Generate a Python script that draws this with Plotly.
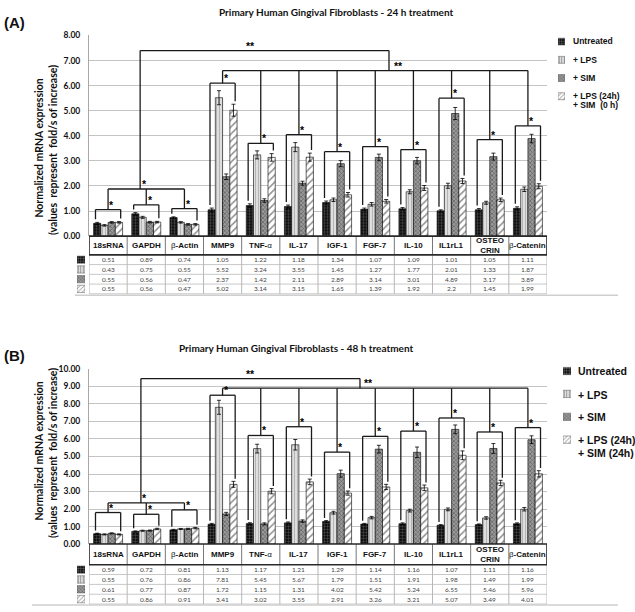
import plotly.graph_objects as go

W, H = 635, 612

# ---------------- data ----------------
categories = ["18sRNA", "GAPDH", "β-Actin", "MMP9", "TNF-α", "IL-17",
              "IGF-1", "FGF-7", "IL-10", "IL1rL1", "OSTEO CRIN", "β-Catenin"]
header_labels = ["<b>18sRNA</b>", "<b>GAPDH</b>", "β<b>-Actin</b>", "<b>MMP9</b>",
                 "<b>TNF-</b>α", "<b>IL-17</b>", "<b>IGF-1</b>", "<b>FGF-7</b>",
                 "<b>IL-10</b>", "<b>IL1rL1</b>", "<b>OSTEO<br>CRIN</b>", "β<b>-Catenin</b>"]
series_names = ["Untreated", "+ LPS", "+ SIM", "+ LPS + SIM"]

# Panel A : 24 h treatment
A_untreated = [0.51, 0.89, 0.74, 1.05, 1.22, 1.18, 1.34, 1.07, 1.09, 1.01, 1.05, 1.11]
A_lps       = [0.43, 0.75, 0.55, 5.52, 3.24, 3.55, 1.45, 1.27, 1.77, 2.01, 1.33, 1.87]
A_sim       = [0.55, 0.56, 0.47, 2.37, 1.42, 2.11, 2.89, 3.14, 3.01, 4.89, 3.17, 3.89]
A_lps_sim   = [0.55, 0.56, 0.47, 5.02, 3.14, 3.15, 1.65, 1.39, 1.92, 2.2, 1.45, 1.99]
A_untreated_err = [0.04, 0.05, 0.03, 0.07, 0.07, 0.06, 0.06, 0.05, 0.05, 0.04, 0.05, 0.06]
A_lps_err       = [0.03, 0.04, 0.03, 0.28, 0.16, 0.18, 0.07, 0.07, 0.08, 0.10, 0.06, 0.09]
A_sim_err       = [0.03, 0.03, 0.03, 0.11, 0.07, 0.08, 0.12, 0.13, 0.13, 0.24, 0.14, 0.17]
A_lps_sim_err   = [0.03, 0.03, 0.03, 0.24, 0.15, 0.16, 0.09, 0.07, 0.10, 0.10, 0.07, 0.10]
A_group_bracket = [1.06, 1.25, 1.10, 6.10, 3.70, 4.05, 3.37, 3.57, 3.45, 5.50, 3.85, 4.40]
A_house_bracket, A_top_bracket, A_mid_bracket = 1.88, 7.40, 6.60

# Panel B : 48 h treatment
B_untreated = [0.59, 0.72, 0.81, 1.13, 1.17, 1.21, 1.29, 1.14, 1.16, 1.07, 1.11, 1.16]
B_lps       = [0.55, 0.76, 0.86, 7.81, 5.45, 5.67, 1.79, 1.51, 1.91, 1.98, 1.49, 1.99]
B_sim       = [0.61, 0.77, 0.87, 1.72, 1.15, 1.31, 4.02, 5.42, 5.24, 6.55, 5.46, 5.96]
B_lps_sim   = [0.55, 0.86, 0.91, 3.41, 3.02, 3.55, 2.91, 3.26, 3.21, 5.07, 3.49, 4.01]
B_untreated_err = [0.03, 0.03, 0.03, 0.05, 0.05, 0.05, 0.05, 0.04, 0.05, 0.04, 0.04, 0.05]
B_lps_err       = [0.03, 0.03, 0.03, 0.40, 0.25, 0.30, 0.08, 0.07, 0.08, 0.08, 0.07, 0.10]
B_sim_err       = [0.03, 0.03, 0.03, 0.09, 0.06, 0.07, 0.20, 0.22, 0.30, 0.25, 0.28, 0.22]
B_lps_sim_err   = [0.03, 0.04, 0.04, 0.17, 0.15, 0.16, 0.12, 0.15, 0.16, 0.25, 0.15, 0.18]
B_group_bracket = [1.80, 1.70, 1.95, 8.50, 6.20, 6.70, 5.25, 6.15, 6.45, 7.20, 6.40, 6.65]
B_house_bracket, B_top_bracket, B_mid_bracket = 2.35, 9.45, 8.90

# ---------------- helpers ----------------
def PX(p):
    return p / W

def PY(p):
    return 1 - p / H

SANS = "Liberation Sans, Arial, sans-serif"
CAL = "Lato, Carlito, sans-serif"

patterns = [
    dict(shape="+", bgcolor="#111111", fgcolor="#d8d8d8", size=3, solidity=0.2),
    dict(shape="|", bgcolor="#dedede", fgcolor="#8a8a8a", size=3, solidity=0.35),
    dict(shape="x", bgcolor="#9a9a9a", fgcolor="#2e2e2e", size=3, solidity=0.45),
    dict(shape="/", bgcolor="#ffffff", fgcolor="#222222", size=5, solidity=0.3),
]

fig = go.Figure()
shapes = []
annotations = []

panels = [
    dict(xa="x", ya="y", vals=[A_untreated, A_lps, A_sim, A_lps_sim],
         errs=[A_untreated_err, A_lps_err, A_sim_err, A_lps_sim_err],
         group=A_group_bracket, house=A_house_bracket, top=A_top_bracket, mid=A_mid_bracket,
         top_x=(0.84, 7.36), star2_x=7.62, gap=0.12,
         plot_top=31, plot_bot=235, yrange=8,
         head_bot=254, row_h=9.9, table_font=6.5,
         title="Primary Human Gingival Fibroblasts - 24 h treatment", title_x=336, title_y=7,
         tag="(A)", tag_y=18, ytitle_y=148,
         leg_rows=[37, 56, 74.5, 92.5], leg_text_x=571, leg_font=8.5,
         leg_last2=("+ SIM  (0 h)", 101.5), bottom_line=(75, 295)),
    dict(xa="x2", ya="y2", vals=[B_untreated, B_lps, B_sim, B_lps_sim],
         errs=[B_untreated_err, B_lps_err, B_sim_err, B_lps_sim_err],
         group=B_group_bracket, house=B_house_bracket, top=B_top_bracket, mid=B_mid_bracket,
         top_x=(0.86, 6.6), star2_x=6.82, gap=0.15,
         plot_top=370, plot_bot=548, yrange=10,
         head_bot=569, row_h=10, table_font=6.5,
         title="Primary Human Gingival Fibroblasts - 48 h treatment", title_x=296, title_y=349,
         tag="(B)", tag_y=356, ytitle_y=456,
         leg_rows=[372, 396, 419, 442], leg_text_x=576, leg_font=10.5,
         leg_last2=("+ SIM (24h)", 455), bottom_line=(32, 610)),
]

legend_first = ["Untreated", "+ LPS", "+ SIM", "+ LPS (24h)"]

for pi, P in enumerate(panels):
    xa, ya = P["xa"], P["ya"]
    # ---- bars ----
    for s in range(4):
        fig.add_trace(go.Bar(
            x=categories, y=P["vals"][s], name=series_names[s],
            xaxis=xa, yaxis=ya, showlegend=False,
            marker=dict(color=patterns[s]["bgcolor"], pattern=patterns[s],
                        line=dict(color="#000000", width=0.6)),
            error_y=dict(type="data", array=P["errs"][s], color="#000000",
                         thickness=0.8, width=2),
        ))

    # ---- brackets ----
    def line(x0, y0, x1, y1, w=1.3):
        shapes.append(dict(type="line", xref=xa, yref=ya, x0=x0, y0=y0, x1=x1, y1=y1,
                           line=dict(color="#1a1a1a", width=w)))

    def star(x, y, txt="*"):
        annotations.append(dict(xref=xa, yref=ya, x=x, y=y, text="<b>%s</b>" % txt,
                                showarrow=False, yanchor="bottom", yshift=-3,
                                font=dict(family=SANS, size=10.5, color="#000000")))

    u, b = P["vals"][0], P["vals"][3]
    ue, be = P["errs"][0], P["errs"][3]
    for i, h in enumerate(P["group"]):
        lb = u[i] + ue[i] + P["gap"]
        rb = b[i] + be[i] + P["gap"]
        line(i - 0.33, h, i + 0.33, h)
        line(i - 0.33, h, i - 0.33, lb)
        line(i + 0.33, h, i + 0.33, rb)
        star(i + 0.1, h)
    hh = P["house"]
    line(0, hh, 2, hh)
    for i in range(3):
        line(i, hh, i, P["group"][i])
    star(0.95, hh)
    tx0, tx1 = P["top_x"]
    line(tx0, hh, tx0, P["top"])
    line(tx0, P["top"], tx1, P["top"])
    line(tx1, P["top"], tx1, P["mid"])
    star(3.72, P["top"], "**")
    star(P["star2_x"], P["mid"], "**")
    line(3, P["mid"], 11, P["mid"])
    for i in range(3, 12):
        line(i, P["mid"], i, P["group"][i])

    # ---- table ----
    ht, hb = P["plot_bot"], P["head_bot"]
    rows_y = [hb + P["row_h"] * k for k in range(5)]
    for k in range(1, 5):
        shapes.append(dict(type="line", xref=xa, yref="paper", x0=-0.5, x1=11.5,
                           y0=PY(rows_y[k]), y1=PY(rows_y[k]),
                           line=dict(color="#c8c8c8", width=1)))
    for c in range(13):
        shapes.append(dict(type="line", xref=xa, yref="paper", x0=c - 0.5, x1=c - 0.5,
                           y0=PY(hb), y1=PY(rows_y[4]),
                           line=dict(color="#b8b8b8", width=1)))
    for c in range(1, 12):
        shapes.append(dict(type="line", xref=xa, yref="paper", x0=c - 0.5, x1=c - 0.5,
                           y0=PY(ht), y1=PY(hb), line=dict(color="#777777", width=1)))
    shapes.append(dict(type="rect", xref=xa, yref="paper", x0=-0.5, x1=11.5,
                       y0=PY(hb), y1=PY(ht), line=dict(color="#2a2a2a", width=1.6)))
    for c in range(12):
        annotations.append(dict(xref=xa, yref="paper", x=c, y=PY((ht + hb) / 2),
                                text=header_labels[c], showarrow=False,
                                font=dict(family=SANS, size=8, color="#111111"),
                                yanchor="middle"))
        for s in range(4):
            annotations.append(dict(xref=xa, yref="paper", x=c,
                                    y=PY((rows_y[s] + rows_y[s + 1]) / 2),
                                    text="%g" % P["vals"][s][c], showarrow=False,
                                    font=dict(family=CAL, size=P["table_font"], color="#444444"),
                                    yanchor="middle"))
    bx0, by = P["bottom_line"]
    shapes.append(dict(type="line", xref="paper", yref="paper", x0=PX(bx0), x1=PX(618),
                       y0=PY(by), y1=PY(by), line=dict(color="#cfcfcf", width=1.5)))

    # ---- titles ----
    annotations.append(dict(xref="paper", yref="paper", x=PX(P["title_x"]), y=PY(P["title_y"]),
                            text="<b>%s</b>" % P["title"], showarrow=False,
                            font=dict(family=CAL, size=10, color="#111111"),
                            xanchor="center", yanchor="middle"))
    annotations.append(dict(xref="paper", yref="paper", x=PX(2), y=PY(P["tag_y"]),
                            text="<b>%s</b>" % P["tag"], showarrow=False,
                            font=dict(family=SANS, size=15, color="#111111"),
                            xanchor="left", yanchor="middle"))
    annotations.append(dict(xref="paper", yref="paper", x=PX(39), y=PY(P["ytitle_y"] - 2),
                            text="<b>Normalized mRNA expression</b>", showarrow=False,
                            textangle=-90, font=dict(family=CAL, size=10.5, color="#111111"),
                            xanchor="center", yanchor="middle"))
    annotations.append(dict(xref="paper", yref="paper", x=PX(52.5), y=PY(P["ytitle_y"]),
                            text="<b>(values  represent  fold/s of increase)</b>", showarrow=False,
                            textangle=-90, font=dict(family=CAL, size=10.5, color="#111111"),
                            xanchor="center", yanchor="middle"))

    # ---- legend text ----
    for s in range(4):
        annotations.append(dict(xref="paper", yref="paper", x=PX(P["leg_text_x"]),
                                y=PY(P["leg_rows"][s]), text="<b>%s</b>" % legend_first[s],
                                showarrow=False, xanchor="left", yanchor="middle",
                                font=dict(family=SANS, size=P["leg_font"], color="#111111")))
    t2, y2 = P["leg_last2"]
    annotations.append(dict(xref="paper", yref="paper", x=PX(P["leg_text_x"]),
                            y=PY(y2), text="<b>%s</b>" % t2,
                            showarrow=False, xanchor="left", yanchor="middle",
                            font=dict(family=SANS, size=P["leg_font"], color="#111111")))

# ---- mini axes for swatches (table icons and legend keys) ----
def swatch_trace(xa, ya, sizes):
    return go.Bar(
        x=[1, 1, 1, 1], y=[0, 1, 2, 3], orientation="h", base=0, width=sizes,
        xaxis=xa, yaxis=ya, showlegend=False, hoverinfo="skip",
        marker=dict(color=[p["bgcolor"] for p in patterns],
                    pattern=dict(shape=[p["shape"] for p in patterns],
                                 bgcolor=[p["bgcolor"] for p in patterns],
                                 fgcolor=[p["fgcolor"] for p in patterns],
                                 size=[2.5, 2.5, 2.5, 3], solidity=[0.25, 0.35, 0.45, 0.3]),
                    line=dict(color="#555555", width=0.5)))

mini = {}
fig.add_trace(swatch_trace("x3", "y3", [0.75] * 4))
mini["3"] = ([PX(77), PX(85)], [PY(293.6), PY(254)])
fig.add_trace(swatch_trace("x4", "y4", [0.38] * 4))
mini["4"] = ([PX(558), PX(565)], [PY(102), PY(28)])
fig.add_trace(swatch_trace("x5", "y5", [0.75] * 4))
mini["5"] = ([PX(77), PX(85)], [PY(609), PY(569)])
fig.add_trace(swatch_trace("x6", "y6", [0.32] * 4))
mini["6"] = ([PX(563), PX(571)], [PY(453.5), PY(360.5)])

layout = dict(
    width=W, height=H, margin=dict(l=0, r=0, t=0, b=0),
    paper_bgcolor="white", plot_bgcolor="white",
    barmode="group", bargap=0.24, bargroupgap=0,
    showlegend=False, shapes=shapes, annotations=annotations,
)

for key, P in zip(["", "2"], panels):
    layout["xaxis" + key] = dict(domain=[PX(89), PX(547)], anchor="y" + key,
                                 range=[-0.5, 11.5], showticklabels=False, showgrid=False,
                                 zeroline=False, ticks="", fixedrange=True)
    layout["yaxis" + key] = dict(domain=[PY(P["plot_bot"]), PY(P["plot_top"])],
                                 anchor="x" + key, range=[0, P["yrange"]], dtick=1,
                                 tickformat=".2f", showgrid=True, gridcolor="#c4c4c4",
                                 gridwidth=1, zeroline=False, showline=True,
                                 linecolor="#a8a8a8", ticks="", ticklabelstandoff=6,
                                 tickfont=dict(family=CAL, size=8.5, color="#111111",
                                               weight="bold"),
                                 fixedrange=True)

for k, (dx, dy) in mini.items():
    layout["xaxis" + k] = dict(domain=dx, anchor="y" + k, range=[0, 1], visible=False,
                               fixedrange=True)
    layout["yaxis" + k] = dict(domain=dy, anchor="x" + k, range=[3.5, -0.5], visible=False,
                               fixedrange=True)

fig.update_layout(**layout)
fig.write_html("out.html", config={"displayModeBar": False},
               post_script="document.body.style.margin='0';document.body.style.overflow='hidden';")
